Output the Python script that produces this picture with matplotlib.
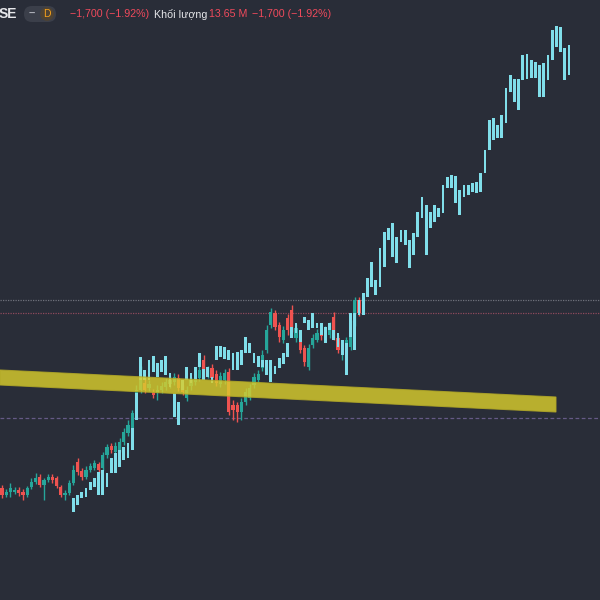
import numpy as np
import matplotlib.pyplot as plt
from matplotlib.patches import Polygon, FancyBboxPatch

plt.rcParams['font.family'] = ['Liberation Sans', 'DejaVu Sans']

# candlestick series (price levels)
c_open = [112, 105, 108, 108, 110, 108, 105, 113, 118, 123, 115, 120, 123, 122, 113, 105, 107, 117, 138, 129,
          123, 130, 132, 136, 132, 145, 154, 148, 150, 158, 167, 172, 187, 210, 217, 212, 208, 207, 210, 213,
          216, 218, 222, 212, 202, 214, 218, 222, 240, 224, 232, 226, 216, 220, 228, 195, 195, 188, 198, 202,
          215, 220, 232, 250, 275, 287, 275, 260, 282, 290, 262, 263, 252, 233, 255, 260, 266, 263, 265, 283,
          262, 245, 250, 253, 277, 300]
c_close = [105, 108, 112, 110, 107, 105, 112, 118, 122, 115, 120, 123, 120, 114, 105, 107, 117, 130, 128, 123,
           130, 134, 137, 130, 145, 153, 150, 154, 158, 168, 175, 187, 210, 228, 210, 216, 205, 210, 214, 218,
           220, 223, 212, 208, 210, 220, 226, 230, 225, 230, 222, 217, 224, 227, 188, 190, 188, 198, 208, 212,
           223, 226, 245, 270, 288, 273, 263, 270, 270, 272, 272, 250, 238, 252, 262, 267, 264, 270, 275, 262,
           250, 255, 260, 277, 300, 287]
c_high = [115, 111, 117, 113, 113, 111, 114, 122, 127, 126, 122, 126, 126, 124, 115, 110, 120, 135, 142, 132,
          134, 137, 140, 138, 148, 156, 157, 158, 162, 172, 180, 190, 215, 234, 222, 220, 211, 215, 218, 222,
          224, 227, 226, 215, 214, 223, 230, 234, 245, 234, 236, 230, 228, 231, 232, 200, 198, 202, 212, 216,
          227, 230, 250, 275, 292, 290, 278, 274, 286, 295, 276, 267, 255, 256, 266, 271, 270, 274, 278, 288,
          265, 258, 263, 280, 303, 303]
c_low = [102, 103, 103, 106, 104, 100, 103, 111, 116, 113, 100, 118, 117, 112, 103, 100, 105, 115, 125, 120,
         121, 128, 130, 127, 130, 142, 147, 146, 148, 155, 164, 170, 184, 207, 207, 209, 202, 200, 207, 210,
         212, 215, 209, 205, 199, 210, 215, 219, 222, 222, 219, 214, 213, 216, 185, 180, 178, 180, 195, 200,
         212, 218, 229, 247, 272, 270, 258, 257, 265, 268, 258, 247, 234, 230, 252, 258, 260, 260, 262, 260,
         247, 240, 245, 250, 274, 284]

# projected bars pattern (light blue), starts at bar 17
pattern_start = 17
p_low = [88, 95, 102, 103, 110, 113, 105, 105, 113, 127, 127, 133, 140, 142, 150, 180, 220, 220, 220, 228,
         223, 228, 225, 213, 183, 175, 210, 220, 217, 220, 233, 220, 223, 217, 240, 243, 241, 240, 230, 230,
         235, 247, 247, 237, 233, 233, 225, 218, 226, 232, 236, 243, 262, 267, 258, 277, 270, 272, 272, 265,
         257, 270, 260, 253, 245, 225, 263, 250, 285, 285, 303, 313, 305, 313, 333, 360, 343, 337, 358, 355,
         332, 345, 363, 382, 345, 372, 378, 383, 387, 412, 412, 397, 385, 403, 405, 408, 407, 408, 427, 450,
         460, 462, 462, 477, 508, 498, 490, 520, 521, 522, 522, 503, 503, 520, 540, 553, 548, 520, 525]
p_high = [102, 105, 108, 112, 118, 122, 128, 130, 127, 142, 147, 150, 153, 157, 172, 207, 243, 230, 240, 244,
          237, 240, 244, 227, 207, 198, 220, 233, 227, 233, 247, 231, 233, 223, 254, 254, 253, 250, 247, 248,
          250, 263, 257, 247, 244, 240, 240, 240, 234, 242, 247, 257, 273, 277, 270, 283, 280, 287, 277, 277,
          273, 277, 270, 267, 260, 257, 287, 287, 300, 307, 322, 338, 320, 352, 368, 372, 377, 363, 370, 370,
          360, 367, 388, 403, 395, 388, 395, 392, 415, 423, 425, 424, 410, 415, 415, 417, 418, 427, 450, 480,
          482, 475, 485, 512, 525, 521, 521, 545, 546, 540, 538, 535, 537, 545, 570, 574, 573, 552, 555]

# yellow trend zone: (bar, upper, lower) at both ends
zone_start = (-0.48, 230, 215)
zone_end = (131.9, 203, 188)

# horizontal levels
level_grey = 300
level_red = 287
level_purple = 182

BG = '#292d38'
UP = '#26a69a'
DOWN = '#ef5350'
PATTERN = '#80deea'
RED_TXT = '#f04a5c'

fig = plt.figure(figsize=(6, 6), dpi=100, facecolor=BG)
ax = fig.add_axes([0, 0, 1, 1])
ax.set_facecolor(BG)
ax.axis('off')
ax.set_xlim(-0.476, 142.38)
ax.set_ylim(0, 600)

ax.axhline(level_grey, color='#6f727c', lw=0.9, ls=(0, (1, 1)), zorder=1)
ax.axhline(level_red, color='#8e4a5c', lw=0.9, ls=(0, (1, 1)), zorder=1)
ax.axhline(level_purple, color='#655a86', lw=0.9, ls=(0, (3, 2)), zorder=1)

o = np.array(c_open)
c = np.array(c_close)
h = np.array(c_high)
l = np.array(c_low)
x = np.arange(len(o))
cols = np.where(c >= o, UP, DOWN)
ax.vlines(x, l, h, colors=cols, lw=1, zorder=2)
ax.bar(x, np.maximum(np.abs(c - o), 1.2), bottom=np.minimum(o, c), width=0.8, color=cols, zorder=2)

plo = np.array(p_low)
phi = np.array(p_high)
px = np.arange(pattern_start, pattern_start + len(plo))
ax.bar(px, phi - plo, bottom=plo, width=0.7, color=PATTERN, zorder=3)

zone = Polygon([(zone_start[0], zone_start[1]), (zone_end[0], zone_end[1]),
                (zone_end[0], zone_end[2]), (zone_start[0], zone_start[2])],
               closed=True, fc='#d9cd2c', ec='#b3a927', lw=0.8, alpha=0.82, zorder=4)
ax.add_patch(zone)

# header line
ty = 1 - 14 / 600
fig.text(-1 / 600, ty, 'SE', color='#e6e7ea', fontsize=10, fontweight='bold', va='center')
fig.patches.append(FancyBboxPatch((24 / 600, 1 - 22 / 600), 32 / 600, 16 / 600,
                                  boxstyle='round,pad=0,rounding_size=0.013',
                                  transform=fig.transFigure, fc='#3b3f4a', ec='none'))
fig.text(32 / 600, ty, '\u2013', color='#b2b5be', fontsize=8, va='center', ha='center', fontweight='bold')
fig.text(47 / 600, ty, 'D', color='#f7a21b', fontsize=7.5, va='center', ha='center',
         bbox=dict(boxstyle='circle,pad=0.18', fc='#4e4334', ec='none'))
fig.text(70 / 600, ty, '\u22121,700 (\u22121.92%)', color=RED_TXT, fontsize=7.7, va='center')
fig.text(154 / 600, ty, 'Khối lượng', color='#e6e7ea', fontsize=7.7, va='center')
fig.text(209 / 600, ty, '13.65 M', color=RED_TXT, fontsize=7.7, va='center')
fig.text(252 / 600, ty, '\u22121,700 (\u22121.92%)', color=RED_TXT, fontsize=7.7, va='center')

fig.savefig('out.png', dpi=100, facecolor=BG)
